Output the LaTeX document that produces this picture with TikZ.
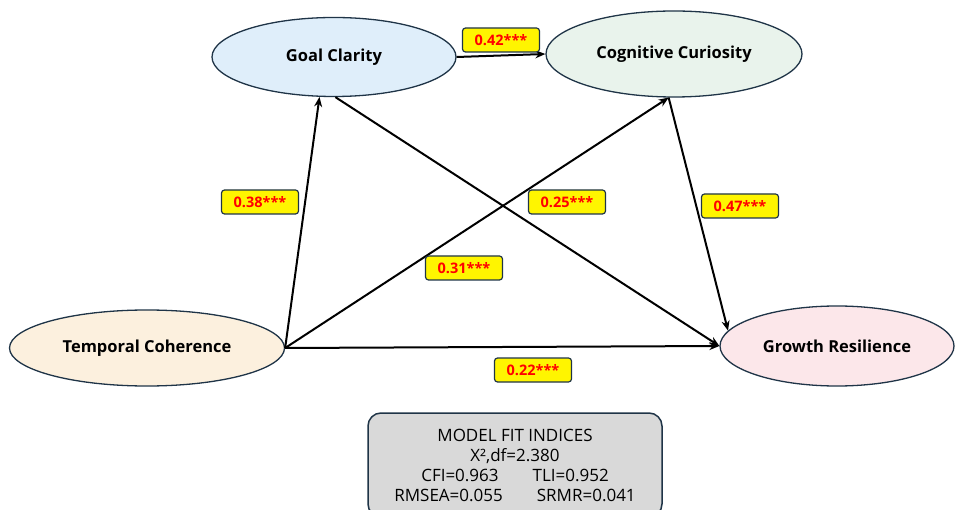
\documentclass[tikz,border=0pt]{standalone}
\usepackage{fontspec}
\setmainfont{Open Sans}
\usepackage{tikz}
\usetikzlibrary{positioning,shapes.geometric,arrows.meta}

\definecolor{edgeblue}{HTML}{1F3447}
\definecolor{gcfill}{HTML}{DFEEFA}
\definecolor{ccfill}{HTML}{E9F3EC}
\definecolor{tcfill}{HTML}{FCF0DE}
\definecolor{grfill}{HTML}{FCE7EA}
\definecolor{coefyellow}{HTML}{FFF500}
\definecolor{fitgray}{HTML}{D9D9D9}

\tikzset{
  latent/.style={draw=edgeblue, line width=1.3pt, ellipse, inner sep=0pt,
    font=\fontsize{16.5}{19}\selectfont\bfseries},
  coef/.style={draw=edgeblue, fill=coefyellow, rounded corners=3pt, line width=1.2pt,
    minimum width=77pt, minimum height=24pt, inner sep=0pt, text=red,
    font=\fontsize{14.5}{16}\selectfont\bfseries},
  path/.style={line width=2pt, -{Stealth[length=10pt,width=8pt]}}
}

\begin{document}
\begin{tikzpicture}[x=1pt, y=-1pt]
    \useasboundingbox (0,0) rectangle (955,510);
    % constructs
    \node[latent, fill=gcfill, minimum width=244pt, minimum height=79pt] (gc) at (334,57) {Goal Clarity};
    \node[latent, fill=ccfill, minimum width=256pt, minimum height=86pt] (cc) at (674,54) {Cognitive Curiosity};
    \node[latent, fill=tcfill, minimum width=275pt, minimum height=76pt] (tc) at (147,348) {Temporal Coherence};
    \node[latent, fill=grfill, minimum width=234pt, minimum height=80pt] (gr) at (837,346) {Growth Resilience};
    % paths
    \draw[path] (gc.east) -- (cc.west);
    \draw[path] (tc.east) -- (gc.-110);
    \draw[path] (tc.east) -- (cc.-97);
    \draw[path] (gc.-88) -- (gr.west);
    \draw[path] (cc.-97) -- (gr.172);
    \draw[path] (tc.east) -- (gr.west);
    % coefficients
    \node[coef] (b42) at (501,40) {0.42***};
    \node[coef] (b38) at (260,202) {0.38***};
    \node[coef] (b25) at (567,202) {0.25***};
    \node[coef] (b31) at (464,268) {0.31***};
    \node[coef] (b47) at (740,206) {0.47***};
    \node[coef] (b22) at (533,370) {0.22***};
    % fit indices
    \node[draw=edgeblue, fill=fitgray, line width=1.5pt, rounded corners=13pt,
      minimum width=294pt, minimum height=104pt, align=center,
      font=\fontsize{17}{20}\selectfont] (fit) at (515,465)
      {MODEL FIT INDICES\\X²,df=2.380\\CFI=0.963\hspace{2em}TLI=0.952\\RMSEA=0.055\hspace{2em}SRMR=0.041};
\end{tikzpicture}
\end{document}
